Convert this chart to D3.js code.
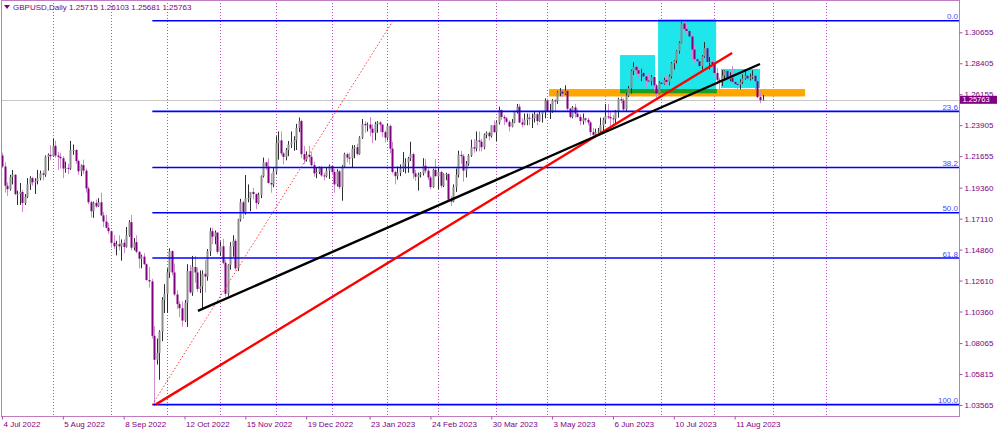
<!DOCTYPE html>
<html><head><meta charset="utf-8">
<script src="https://cdn.jsdelivr.net/npm/d3@7"></script>
<style>
body{margin:0;background:#fff}
svg{display:block}
text{font-family:"Liberation Sans",Arial,sans-serif;}
</style>
</head><body>
<svg id="c" width="1000" height="432"></svg>
<script>
// ---------------- data (GBPUSD daily) ----------------
const symbolTitle = "GBPUSD,Daily";
const firstDay = "2022-07-04";
const opens = [
1.2170,1.2090,1.1950,1.1925,1.2015,1.2030,1.1890,1.1890,1.1905,1.1825,1.1870,1.1960,1.2005,1.1975,1.1985,1.2005,1.2040,1.2030,1.2160,1.2175,
1.2165,1.2240,1.2170,1.2160,1.2150,1.2075,1.2080,1.2075,1.2210,1.2210,1.2130,1.2055,1.2100,1.2060,1.1930,1.1830,1.1765,1.1825,1.1800,1.1830,1.1735,1.1690,1.1645,
1.1620,1.1535,1.1510,1.1525,1.1510,1.1535,1.1505,1.1590,1.1685,1.1500,1.1540,1.1470,1.1420,1.1435,1.1380,1.1265,1.1255,1.0859,1.0685,1.0735,1.0890,1.1120,
1.1165,1.1320,1.1475,1.1320,1.1160,1.1090,1.1060,1.0970,1.1100,1.1330,1.1175,1.1360,1.1320,1.1200,1.1220,1.1310,1.1290,1.1475,1.1620,1.1580,1.1610,
1.1470,1.1510,1.1390,1.1165,1.1375,1.1510,1.1550,1.1350,1.1705,1.1830,1.1760,1.1860,1.1860,1.1905,1.1890,1.1825,1.1885,1.2020,1.2120,1.2090,1.1970,1.1960,
1.2055,1.2260,1.2280,1.2185,1.2160,1.2210,1.2250,1.2265,1.2280,1.2370,1.2420,1.2180,1.2140,1.2175,1.2160,1.2100,1.2040,1.2050,1.2085,1.2025,1.2020,1.2060,
1.2095,1.2050,1.1960,1.2055,1.1940,1.2090,1.2180,1.2155,1.2150,1.2220,1.2230,1.2180,1.2300,1.2400,1.2390,1.2395,1.2365,1.2335,1.2400,1.2410,1.2395,1.2340,
1.2300,1.2385,1.2220,1.2050,1.2020,1.2045,1.2075,1.2120,1.2120,1.2150,1.2180,1.2040,1.2015,1.2030,1.2040,1.2095,1.2060,1.2010,1.1940,1.2065,
1.2020,1.2050,1.1950,1.2035,1.2035,1.1850,1.1835,1.1940,1.2030,1.2175,1.2165,1.2060,1.2110,1.2170,1.2230,1.2220,1.2280,1.2270,1.2230,1.2320,1.2335,1.2310,1.2390,
1.2340,1.2410,1.2500,1.2450,1.2440,1.2415,1.2380,1.2410,1.2490,1.2525,1.2410,1.2395,1.2430,1.2445,1.2440,1.2440,1.2470,1.2420,1.2470,1.2490,
1.2570,1.2490,1.2490,1.2570,1.2565,1.2630,1.2635,1.2620,1.2640,1.2510,1.2450,1.2520,1.2475,1.2450,1.2420,1.2440,1.2430,1.2410,1.2340,1.2320,1.2340,1.2345,1.2390,
1.2430,1.2455,1.2450,1.2440,1.2435,1.2490,1.2580,1.2570,1.2505,1.2605,1.2660,1.2785,1.2815,1.2790,1.2765,1.2770,1.2745,1.2715,1.2710,1.2740,1.2680,1.2620,
1.2700,1.2690,1.2720,1.2705,1.2745,1.2840,1.2860,1.2930,1.2990,1.3130,1.3090,1.3075,1.3035,1.2940,1.2870,1.2855,1.2820,1.2890,1.2950,1.2850,1.2850,
1.2835,1.2770,1.2720,1.2710,1.2750,1.2785,1.2725,1.2735,1.2705,1.2690,1.2685,1.2705,1.2730,1.2750,1.2730,1.2740,1.2750,1.2710,1.2595,1.25715];
const highs = [
1.2190,1.2120,1.1975,1.2030,1.2065,1.2035,1.1915,1.1970,1.1920,1.1890,1.2005,1.2020,1.2015,1.2005,1.2065,1.2060,1.2060,1.2170,1.2185,1.2245,
1.2293,1.2278,1.2195,1.2190,1.2165,1.2125,1.2110,1.2276,1.2250,1.2215,1.2140,1.2105,1.2140,1.2075,1.1945,1.1840,1.1835,1.1850,1.1860,1.1900,1.1760,1.1740,1.1680,
1.1625,1.1590,1.1550,1.1590,1.1560,1.1560,1.1650,1.1700,1.1738,1.1570,1.1590,1.1475,1.1450,1.1460,1.1385,1.1360,1.1274,1.0930,1.0840,1.0900,1.1140,1.1235,
1.1350,1.1495,1.1480,1.1385,1.1190,1.1110,1.1110,1.1120,1.1380,1.1375,1.1440,1.1440,1.1355,1.1335,1.1335,1.1410,1.1490,1.1645,1.1645,1.1625,1.1610,
1.1545,1.1565,1.1410,1.1380,1.1540,1.1590,1.1565,1.1710,1.1855,1.1840,1.2028,1.1960,1.1905,1.1935,1.1895,1.1900,1.2025,1.2155,1.2125,1.2150,1.2040,1.2085,
1.2310,1.2345,1.2345,1.2195,1.2225,1.2275,1.2345,1.2310,1.2400,1.2446,1.2430,1.2240,1.2200,1.2240,1.2195,1.2125,1.2085,1.2090,1.2095,1.2045,1.2085,1.2105,
1.2100,1.2070,1.2070,1.2065,1.2100,1.2190,1.2190,1.2190,1.2245,1.2245,1.2255,1.2310,1.2435,1.2420,1.2410,1.2450,1.2395,1.2415,1.2420,1.2420,1.2395,1.2350,
1.2400,1.2395,1.2270,1.2060,1.2090,1.2105,1.2195,1.2150,1.2160,1.2270,1.2190,1.2065,1.2045,1.2050,1.2150,1.2145,1.2075,1.2020,1.2075,1.2145,
1.2085,1.2060,1.2040,1.2045,1.2040,1.1875,1.1960,1.2075,1.2205,1.2205,1.2180,1.2130,1.2180,1.2285,1.2290,1.2345,1.2345,1.2290,1.2330,1.2345,1.2345,1.2390,1.2425,
1.2425,1.2525,1.2505,1.2465,1.2450,1.2425,1.2435,1.2495,1.2545,1.2545,1.2440,1.2475,1.2475,1.2475,1.2475,1.2490,1.2480,1.2490,1.2495,1.2585,
1.2585,1.2545,1.2580,1.2580,1.2640,1.2660,1.2645,1.2680,1.2645,1.2515,1.2530,1.2545,1.2510,1.2470,1.2475,1.2445,1.2445,1.2420,1.2370,1.2365,1.2370,1.2445,1.2445,
1.2545,1.2545,1.2485,1.2465,1.2500,1.2590,1.2600,1.2585,1.2625,1.2675,1.2795,1.2848,1.2820,1.2805,1.2800,1.2840,1.2755,1.2760,1.2755,1.2745,1.2690,1.2710,
1.2735,1.2735,1.2750,1.2760,1.2850,1.2865,1.2935,1.3000,1.3140,1.3144,1.3125,1.3100,1.3050,1.2970,1.2895,1.2860,1.2900,1.2995,1.3000,1.2885,1.2870,
1.2840,1.2805,1.2735,1.2790,1.2790,1.2790,1.2775,1.2820,1.2730,1.2705,1.2725,1.2760,1.2795,1.2765,1.2765,1.2790,1.2765,1.2720,1.2640,1.26103];
const lows = [
1.2080,1.1900,1.1876,1.1915,1.1960,1.1880,1.1810,1.1810,1.1760,1.1810,1.1860,1.1920,1.1950,1.1890,1.1960,1.1990,1.1990,1.2015,1.2060,1.2135,
1.2160,1.2155,1.2065,1.2075,1.2005,1.2045,1.2035,1.2065,1.2175,1.2110,1.2030,1.2020,1.2035,1.1900,1.1815,1.1720,1.1717,1.1790,1.1795,1.1730,1.1650,1.1640,1.1600,
1.1500,1.1490,1.1444,1.1480,1.1405,1.1460,1.1500,1.1580,1.1480,1.1480,1.1460,1.1350,1.1350,1.1375,1.1260,1.1210,1.0840,1.0350,1.0650,1.0540,1.0820,1.1025,
1.1025,1.1280,1.1300,1.1150,1.1055,1.0995,1.0925,1.0960,1.0925,1.1165,1.1150,1.1245,1.1180,1.1170,1.1060,1.1175,1.1260,1.1440,1.1525,1.1525,1.1455,
1.1440,1.1380,1.1145,1.1150,1.1340,1.1435,1.1335,1.1330,1.1690,1.1710,1.1740,1.1830,1.1765,1.1850,1.1780,1.1815,1.1860,1.2010,1.2065,1.1965,1.1900,1.1940,
1.2035,1.2140,1.2170,1.2105,1.2135,1.2165,1.2225,1.2205,1.2210,1.2340,1.2150,1.2110,1.2125,1.2120,1.2090,1.2015,1.2005,1.2035,1.2015,1.1990,1.2010,1.2000,
1.2030,1.1900,1.1945,1.1925,1.1841,1.2080,1.2120,1.2105,1.2085,1.2150,1.2170,1.2175,1.2290,1.2335,1.2345,1.2310,1.2260,1.2280,1.2335,1.2340,1.2305,1.2265,
1.2280,1.2185,1.2040,1.1960,1.1995,1.2020,1.2050,1.2040,1.2045,1.2130,1.2000,1.1985,1.1915,1.2010,1.2025,1.2040,1.1990,1.1925,1.1935,1.2015,
1.1925,1.1935,1.1940,1.1990,1.1845,1.1803,1.1830,1.1905,1.2010,1.2110,1.1980,1.2010,1.2095,1.2160,1.2190,1.2200,1.2200,1.2200,1.2215,1.2295,1.2280,1.2300,1.2335,
1.2275,1.2395,1.2430,1.2390,1.2405,1.2345,1.2375,1.2405,1.2475,1.2405,1.2375,1.2390,1.2390,1.2390,1.2370,1.2410,1.2390,1.2415,1.2410,1.2440,
1.2485,1.2435,1.2480,1.2485,1.2545,1.2600,1.2595,1.2610,1.2495,1.2440,1.2440,1.2445,1.2445,1.2390,1.2395,1.2410,1.2390,1.2315,1.2310,1.2300,1.2330,1.2330,1.2350,
1.2400,1.2435,1.2370,1.2365,1.2400,1.2445,1.2550,1.2495,1.2495,1.2595,1.2620,1.2755,1.2760,1.2735,1.2710,1.2685,1.2660,1.2705,1.2680,1.2640,1.2590,1.2615,
1.2655,1.2685,1.2675,1.2680,1.2730,1.2795,1.2840,1.2910,1.2985,1.3080,1.3060,1.2990,1.2870,1.2845,1.2835,1.2800,1.2795,1.2880,1.2845,1.2795,1.2810,
1.2760,1.2685,1.2620,1.2675,1.2715,1.2685,1.2710,1.2700,1.2660,1.2615,1.2650,1.2690,1.2720,1.2705,1.2715,1.2725,1.2615,1.2585,1.2550,1.25681];
const closes = [
1.2090,1.1950,1.1925,1.2015,1.2030,1.1890,1.1890,1.1905,1.1825,1.1870,1.1960,1.2005,1.1975,1.1985,1.2005,1.2040,1.2030,1.2160,1.2175,1.2165,
1.2240,1.2170,1.2160,1.2150,1.2075,1.2080,1.2075,1.2210,1.2210,1.2130,1.2055,1.2100,1.2060,1.1930,1.1830,1.1765,1.1825,1.1800,1.1830,1.1735,1.1690,1.1645,1.1620,
1.1535,1.1510,1.1525,1.1510,1.1535,1.1505,1.1590,1.1685,1.1500,1.1540,1.1470,1.1420,1.1435,1.1380,1.1265,1.1255,1.0859,1.0685,1.0735,1.0890,1.1120,1.1165,
1.1320,1.1475,1.1320,1.1160,1.1090,1.1060,1.0970,1.1100,1.1330,1.1175,1.1360,1.1320,1.1200,1.1220,1.1310,1.1290,1.1475,1.1620,1.1580,1.1610,1.1470,
1.1510,1.1390,1.1165,1.1375,1.1510,1.1550,1.1350,1.1705,1.1830,1.1760,1.1860,1.1860,1.1905,1.1890,1.1825,1.1885,1.2020,1.2120,1.2090,1.1970,1.1960,1.2055,
1.2260,1.2280,1.2185,1.2160,1.2210,1.2250,1.2265,1.2280,1.2370,1.2420,1.2180,1.2140,1.2175,1.2160,1.2100,1.2040,1.2050,1.2085,1.2025,1.2020,1.2060,1.2095,
1.2050,1.1960,1.2055,1.1940,1.2090,1.2180,1.2155,1.2150,1.2220,1.2230,1.2180,1.2300,1.2400,1.2390,1.2395,1.2365,1.2335,1.2400,1.2410,1.2395,1.2340,1.2300,
1.2385,1.2220,1.2050,1.2020,1.2045,1.2075,1.2120,1.2120,1.2150,1.2180,1.2040,1.2015,1.2030,1.2040,1.2095,1.2060,1.2010,1.1940,1.2065,1.2020,
1.2050,1.1950,1.2035,1.2035,1.1850,1.1835,1.1940,1.2030,1.2175,1.2165,1.2060,1.2110,1.2170,1.2230,1.2220,1.2280,1.2270,1.2230,1.2320,1.2335,1.2310,1.2390,1.2340,
1.2410,1.2500,1.2450,1.2440,1.2415,1.2380,1.2410,1.2490,1.2525,1.2410,1.2395,1.2430,1.2445,1.2440,1.2440,1.2470,1.2420,1.2470,1.2490,1.2570,
1.2490,1.2490,1.2570,1.2565,1.2630,1.2635,1.2620,1.2640,1.2510,1.2450,1.2520,1.2475,1.2450,1.2420,1.2440,1.2430,1.2410,1.2340,1.2320,1.2340,1.2345,1.2390,1.2430,
1.2455,1.2450,1.2440,1.2435,1.2490,1.2580,1.2570,1.2505,1.2605,1.2660,1.2785,1.2815,1.2790,1.2765,1.2770,1.2745,1.2715,1.2710,1.2740,1.2680,1.2620,1.2700,
1.2690,1.2720,1.2705,1.2745,1.2840,1.2860,1.2930,1.2990,1.3130,1.3090,1.3075,1.3035,1.2940,1.2870,1.2855,1.2820,1.2890,1.2950,1.2850,1.2850,1.2835,
1.2770,1.2720,1.2710,1.2750,1.2785,1.2725,1.2735,1.2705,1.2690,1.2685,1.2705,1.2730,1.2750,1.2730,1.2740,1.2750,1.2710,1.2595,1.25715,1.25763];

const headerValues = ["1.25715", "1.26103", "1.25681", "1.25763"];
const priceTicks = [1.30655,1.28405,1.26155,1.23905,1.21655,1.19360,1.17110,1.14860,1.12610,1.10360,1.08065,1.05815,1.03565];
const timeLabels = ["4 Jul 2022","5 Aug 2022","8 Sep 2022","12 Oct 2022","15 Nov 2022","19 Dec 2022","23 Jan 2023","24 Feb 2023","30 Mar 2023","3 May 2023","6 Jun 2023","10 Jul 2023","11 Aug 2023"];

// drawn objects, anchored in (bar index, price)
const fibLevels = [0, 23.6, 38.2, 50, 61.8, 100];
const fibBars = [59.3, 154.2];
const fibPrices = [1.0359, 1.3149];
const redTrend = [[60.7, 1.0361], [288.0, 1.2915]];
const blackTrend = [[77.3, 1.1040], [299.0, 1.2835]];
const cyanBoxes = [[243.8, 257.6, 1.2653, 1.2900], [258.8, 281.7, 1.2653, 1.3160], [283.6, 299.0, 1.2661, 1.2799]];
const orangeZone = [215.8, 316.8, 1.2599, 1.2653];
const greenZone = [243.8, 282.0, 1.2622, 1.2653];

// ---------------- drawing ----------------
const svg = d3.select('#c');
const PL = 2, PR = 959.5, PT = 0, PB = 416.5;
const x = d3.scaleLinear().domain([0, 377.7]).range([PL, PR]);
const y = d3.scaleLinear().domain([1.03565, 1.30655]).range([405, 32.3]);
const purple = '#800080';

const days = d3.timeDay.range(d3.timeParse('%Y-%m-%d')(firstDay), new Date(2023, 9, 5))
  .filter(d => d.getDay() !== 0 && d.getDay() !== 6);

svg.append('rect').attr('width', 1000).attr('height', 432).attr('fill', '#fff');
svg.append('defs').append('clipPath').attr('id', 'clip')
  .append('rect').attr('x', PL).attr('y', PT).attr('width', PR - PL).attr('height', PB - PT);
const g = svg.append('g').attr('clip-path', 'url(#clip)');

// month separators
const seps = d3.range(1, days.length).filter(i => days[i].getMonth() !== days[i - 1].getMonth() && x(i) < PR);
g.selectAll('line.sep').data(seps).join('line').attr('class', 'sep')
  .attr('x1', i => Math.round(x(i)) + 0.5).attr('x2', i => Math.round(x(i)) + 0.5)
  .attr('y1', PT).attr('y2', PB)
  .attr('stroke', '#b84cb8').attr('stroke-width', 1).attr('stroke-dasharray', '1,2');

// zones
function zone(z, fill) {
  g.append('rect').attr('x', x(z[0])).attr('width', x(z[1]) - x(z[0]))
    .attr('y', y(z[3])).attr('height', y(z[2]) - y(z[3])).attr('fill', fill);
}
cyanBoxes.forEach(b => zone(b, '#1ee6ea'));
zone(orangeZone, '#ffa500');
zone(greenZone, '#1f9f1f');

// bid line
const last = closes[closes.length - 1];
g.append('line').attr('x1', 0).attr('x2', PR).attr('y1', Math.round(y(last)) + 0.5).attr('y2', Math.round(y(last)) + 0.5)
  .attr('stroke', '#c8c8c8').attr('stroke-width', 1);

// candles
const bars = d3.range(closes.length).map(i => ({ i, o: opens[i], h: highs[i], l: lows[i], c: closes[i] }));
const cg = g.append('g');
bars.forEach(b => {
  const up = b.c >= b.o;
  const px = Math.round(x(b.i));
  const hi = Math.max(b.h, b.o, b.c), lo = Math.min(b.l, b.o, b.c);
  cg.append('line').attr('x1', px + 0.5).attr('x2', px + 0.5)
    .attr('y1', y(hi)).attr('y2', y(lo))
    .attr('stroke', up ? '#2e2e2e' : '#cf8ccf').attr('stroke-width', 1);
  const top = y(Math.max(b.o, b.c)), bot = y(Math.min(b.o, b.c));
  cg.append('rect').attr('x', px - 0.5).attr('width', 2)
    .attr('y', top).attr('height', Math.max(1, bot - top))
    .attr('fill', up ? '#8c8c8c' : purple);
});

// fibonacci
const fibY = lv => y(fibPrices[1] - (fibPrices[1] - fibPrices[0]) * lv / 100);
g.selectAll('line.fib').data(fibLevels).join('line').attr('class', 'fib')
  .attr('x1', x(fibBars[0])).attr('x2', PR)
  .attr('y1', fibY).attr('y2', fibY)
  .attr('stroke', '#0000ff').attr('stroke-width', 1.6);
g.selectAll('text.fib').data(fibLevels).join('text').attr('class', 'fib')
  .attr('x', PR - 1.5).attr('y', lv => fibY(lv) - 1.5)
  .attr('text-anchor', 'end').attr('font-size', 8).attr('fill', '#4a4aff')
  .text(lv => lv.toFixed(1));
g.append('line')
  .attr('x1', x(fibBars[0])).attr('y1', y(fibPrices[0]))
  .attr('x2', x(fibBars[1])).attr('y2', y(fibPrices[1]))
  .attr('stroke', '#ff3b3b').attr('stroke-width', 1).attr('stroke-dasharray', '1.5,2');

// trendlines
g.append('line').attr('x1', x(redTrend[0][0])).attr('y1', y(redTrend[0][1]))
  .attr('x2', x(redTrend[1][0])).attr('y2', y(redTrend[1][1]))
  .attr('stroke', '#ff0000').attr('stroke-width', 2.4);
g.append('line').attr('x1', x(blackTrend[0][0])).attr('y1', y(blackTrend[0][1]))
  .attr('x2', x(blackTrend[1][0])).attr('y2', y(blackTrend[1][1]))
  .attr('stroke', '#000000').attr('stroke-width', 2.4);

// frame
svg.append('rect').attr('x', PL - 0.5).attr('y', PT + 0.5).attr('width', PR - PL + 0.5).attr('height', PB - PT - 0.5)
  .attr('fill', 'none').attr('stroke', '#c07cc0').attr('stroke-width', 1);

// price axis
const ya = svg.append('g').attr('transform', `translate(${PR},0)`)
  .call(d3.axisRight(y).tickValues(priceTicks).tickSize(3).tickPadding(2).tickFormat(d3.format('.5f')));
ya.select('.domain').remove();
ya.selectAll('line').attr('stroke', '#a050a0');
ya.selectAll('text').attr('font-size', 8).attr('fill', purple).attr('font-family', '"Liberation Sans",Arial,sans-serif');

// time axis
const parseLbl = d3.timeParse('%d %b %Y');
const labelIdx = timeLabels.map(s => { const t = +parseLbl(s); return days.findIndex(d => +d === t); });
const xa = svg.append('g').attr('transform', `translate(0,${PB})`)
  .call(d3.axisBottom(x).tickValues(labelIdx).tickSize(3).tickPadding(2)
    .tickFormat((d, k) => timeLabels[k]));
xa.select('.domain').remove();
xa.selectAll('line').attr('stroke', '#a050a0');
xa.selectAll('text').attr('font-size', 8).attr('fill', purple).attr('text-anchor', 'start').attr('x', 1)
  .attr('font-family', '"Liberation Sans",Arial,sans-serif');

// current price box
const by = y(last);
svg.append('rect').attr('x', PR + 0.5).attr('y', by - 3.8).attr('width', 37).attr('height', 8).attr('fill', purple);
svg.append('text').attr('x', PR + 3).attr('y', by + 0.2).attr('dy', '0.35em')
  .attr('font-size', 7.5).attr('fill', '#fff').text(last.toFixed(5));

// header
svg.append('path').attr('d', 'M4,5 L10,5 L7,9 Z').attr('fill', purple);
svg.append('text').attr('x', 13).attr('y', 7.5).attr('dy', '0.35em').attr('font-size', 8).attr('fill', purple)
  .text(symbolTitle + ' ' + headerValues.join(' '));
</script>
</body></html>
